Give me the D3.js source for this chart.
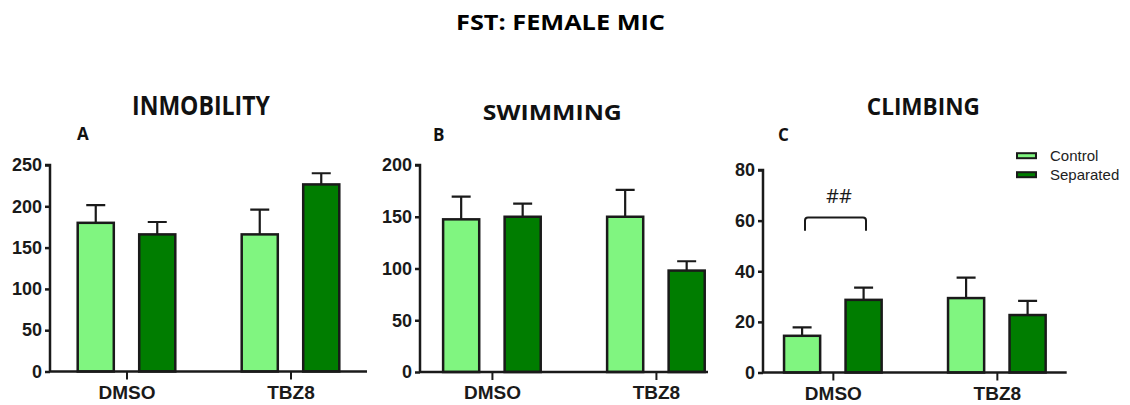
<!DOCTYPE html>
<html>
<head>
<meta charset="utf-8">
<script src="https://cdn.jsdelivr.net/npm/d3@7"></script>
<style>
  body { margin: 0; background: #fff; }
  svg { display: block; }
</style>
</head>
<body>
<svg id="chart" width="1130" height="405"></svg>
<script>
// ---- data ----
const groups = ["DMSO", "TBZ8"];
const seriesNames = ["Control", "Separated"];

// mean per group [DMSO, TBZ8], and SEM
const inmobilityControl = [180, 166];
const inmobilityControlSem = [21.5, 30];
const inmobilitySeparated = [166, 226.5];
const inmobilitySeparatedSem = [15, 13.5];

const swimmingControl = [147.5, 150];
const swimmingControlSem = [22, 26];
const swimmingSeparated = [150, 98];
const swimmingSeparatedSem = [12.6, 9];

const climbingControl = [14.5, 29.4];
const climbingControlSem = [3.3, 8.1];
const climbingSeparated = [28.7, 22.7];
const climbingSeparatedSem = [4.8, 5.6];

const inmobilityTicks = [0, 50, 100, 150, 200, 250];
const swimmingTicks = [0, 50, 100, 150, 200];
const climbingTicks = [0, 20, 40, 60, 80];

// ---- layout ----
const colors = { Control: "#80f580", Separated: "#007d00" };
const barW = 38.5, barGap = 23;

const panels = [
  { letter: "A", title: "INMOBILITY", control: inmobilityControl, controlSem: inmobilityControlSem,
    separated: inmobilitySeparated, separatedSem: inmobilitySeparatedSem, ticks: inmobilityTicks,
    left: 50, right: 367, top: 165, bottom: 371.5, align: 0.5,
    titleX: 201, titleY: 114.7, titleW: 138, titleSize: 26, letterX: 77, letterY: 140 },
  { letter: "B", title: "SWIMMING", control: swimmingControl, controlSem: swimmingControlSem,
    separated: swimmingSeparated, separatedSem: swimmingSeparatedSem, ticks: swimmingTicks,
    left: 420, right: 708, top: 165, bottom: 372, align: 0.58,
    titleX: 552.3, titleY: 119.7, titleW: 139, titleSize: 21, letterX: 433, letterY: 141 },
  { letter: "C", title: "CLIMBING", control: climbingControl, controlSem: climbingControlSem,
    separated: climbingSeparated, separatedSem: climbingSeparatedSem, ticks: climbingTicks,
    left: 763, right: 1066.7, top: 170, bottom: 372.5, align: 0.5,
    titleX: 923.3, titleY: 114.7, titleW: 113, titleSize: 23, letterX: 778, letterY: 141 }
];

const svg = d3.select("#chart");

svg.append("text")
  .attr("x", 560.5).attr("y", 30)
  .attr("text-anchor", "middle")
  .attr("textLength", 209).attr("lengthAdjust", "spacingAndGlyphs")
  .style("font-family", "'Open Sans', sans-serif")
  .style("font-weight", 700).style("font-size", "21px")
  .text("FST: FEMALE MIC");

panels.forEach(p => {
  const g = svg.append("g");

  // panel title + letter
  g.append("text")
    .attr("x", p.titleX).attr("y", p.titleY)
    .attr("text-anchor", "middle")
    .attr("textLength", p.titleW).attr("lengthAdjust", "spacingAndGlyphs")
    .style("font-family", "'Open Sans', sans-serif")
    .style("font-weight", 700).style("font-size", p.titleSize + "px")
    .style("fill", "#111")
    .text(p.title);
  g.append("text")
    .attr("x", p.letterX).attr("y", p.letterY)
    .style("font-family", "'Open Sans', sans-serif")
    .style("font-weight", 700).style("font-size", "17px")
    .style("fill", "#111")
    .text(p.letter);

  const yMax = p.ticks[p.ticks.length - 1];
  const y = d3.scaleLinear().domain([0, yMax]).range([p.bottom, p.top]);

  const span = (p.right - p.left);
  const x = d3.scalePoint().domain(groups).range([p.left, p.right])
    .padding((span / 164 - 1) / 2).align(p.align);

  const sub = d3.scaleBand().domain(seriesNames)
    .range([-(barW + barGap / 2), barW + barGap / 2])
    .paddingInner(barGap / (barW + barGap)).paddingOuter(0);

  const rows = [];
  groups.forEach((grp, i) => {
    rows.push({ grp, s: "Control", v: p.control[i], e: p.controlSem[i] });
    rows.push({ grp, s: "Separated", v: p.separated[i], e: p.separatedSem[i] });
  });

  const bx = d => x(d.grp) + sub(d.s);

  // error bars (drawn first, bars cover lower half)
  g.selectAll(".err").data(rows).join("path")
    .attr("d", d => {
      const cx = bx(d) + sub.bandwidth() / 2;
      const yt = y(d.v + d.e);
      return `M${cx},${y(d.v)}V${yt}M${cx - 9.5},${yt}H${cx + 9.5}`;
    })
    .attr("fill", "none").attr("stroke", "#1a1a1a").attr("stroke-width", 2.2);

  g.selectAll(".bar").data(rows).join("rect")
    .attr("x", d => bx(d) + 1.2)
    .attr("y", d => y(d.v))
    .attr("width", sub.bandwidth() - 2.4)
    .attr("height", d => y(0) - y(d.v))
    .attr("fill", d => colors[d.s])
    .attr("stroke", "#1a1a1a").attr("stroke-width", 2.5);

  // axes
  const yAxis = d3.axisLeft(y).tickValues(p.ticks).tickSize(5).tickPadding(3);
  const ya = g.append("g").attr("transform", `translate(${p.left},0)`).call(yAxis);
  ya.select(".domain").attr("d", `M-5,${p.top}H0V${p.bottom}`);

  const xAxis = d3.axisBottom(x).tickSize(8).tickPadding(6);
  const xa = g.append("g").attr("transform", `translate(0,${p.bottom})`).call(xAxis);
  xa.select(".domain").attr("d", `M${p.left},0H${p.right}`);

  [ya, xa].forEach(a => {
    a.selectAll(".domain, .tick line").attr("stroke", "#1a1a1a").attr("stroke-width", 2.5);
    a.selectAll("text").attr("fill", "#1a1a1a")
      .style("font-family", "'Liberation Sans', Arial, sans-serif")
      .style("font-weight", 700);
  });
  ya.selectAll("text").style("font-size", "18px");
  xa.selectAll("text").style("font-size", "19px").attr("dy", "0.71em");
  xa.selectAll(".tick line").attr("stroke-width", 2);
});

// significance bracket in panel C
{
  const p = panels[2];
  const y = d3.scaleLinear().domain([0, 80]).range([p.bottom, p.top]);
  const bracketTop = 61.2, bracketFoot = 56;
  const x0 = 805, x1 = 866;
  svg.append("path")
    .attr("d", `M${x0},${y(bracketFoot)}V${y(bracketTop) + 3}Q${x0},${y(bracketTop)} ${x0 + 3},${y(bracketTop)}H${x1 - 3}Q${x1},${y(bracketTop)} ${x1},${y(bracketTop) + 3}V${y(bracketFoot)}`)
    .attr("fill", "none").attr("stroke", "#1a1a1a").attr("stroke-width", 2);
  svg.append("text")
    .attr("x", 839).attr("y", 203)
    .attr("text-anchor", "middle")
    .style("font-family", "'Open Sans', sans-serif")
    .style("font-size", "20px").style("fill", "#1a1a1a")
    .text("##");
}

// legend
const legend = svg.append("g").attr("transform", "translate(1016,152.7)");
seriesNames.forEach((s, i) => {
  const row = legend.append("g").attr("transform", `translate(0,${i * 19})`);
  row.append("rect").attr("x", 1).attr("y", 0.5).attr("width", 19).attr("height", 5)
    .attr("fill", colors[s]).attr("stroke", "#1a1a1a").attr("stroke-width", 2);
  row.append("text").attr("x", 34).attr("y", 8)
    .style("font-family", "'Liberation Sans', Arial, sans-serif")
    .style("font-size", "15px").style("fill", "#222")
    .text(s);
});
</script>
</body>
</html>
